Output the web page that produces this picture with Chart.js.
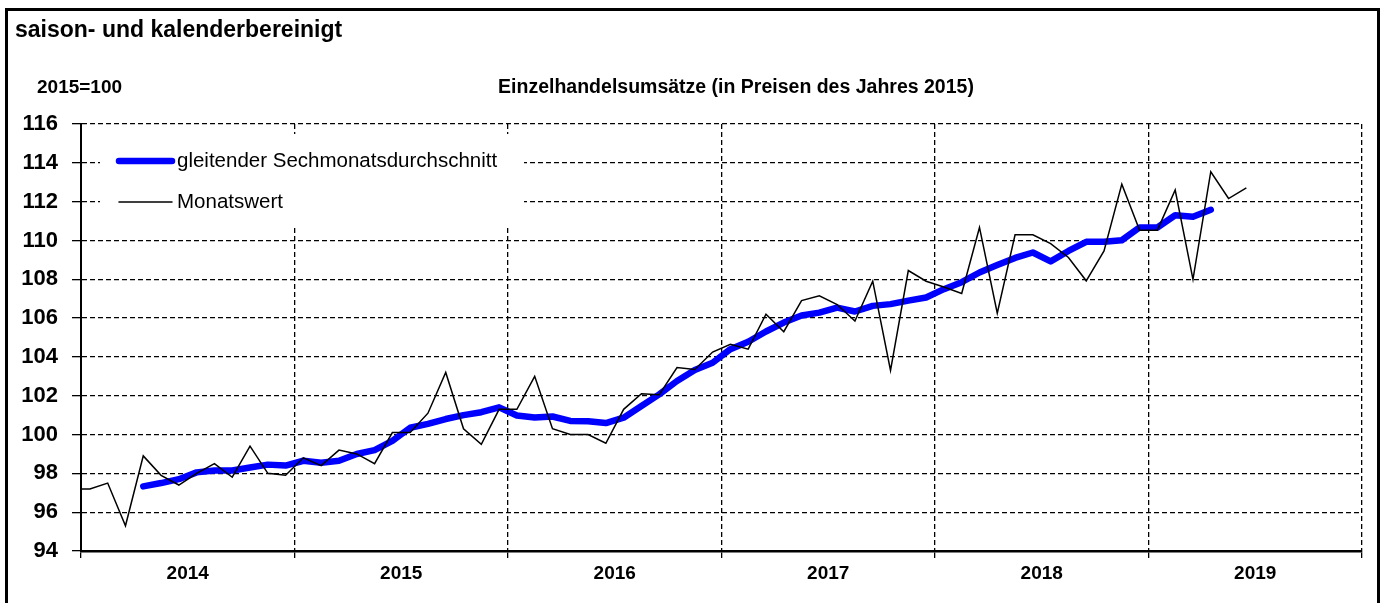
<!DOCTYPE html>
<html lang="de">
<head>
<meta charset="utf-8">
<title>Einzelhandelsumsätze</title>
<script src="https://cdn.jsdelivr.net/npm/chart.js@4/dist/chart.umd.min.js"></script>
<style>
  html, body { margin: 0; padding: 0; background: #fff; }
  #chart { display: block; }
</style>
</head>
<body>
<canvas id="chart" width="1384" height="603"></canvas>
<script>
// Werte (2015 = 100)
const jahre = ['2014', '2015', '2016', '2017', '2018', '2019'];
const yTicks = [94, 96, 98, 100, 102, 104, 106, 108, 110, 112, 114, 116];

// Dezember 2013 (nur der Anschluss am linken Rand)
const dez2013 = 97.2;

// Monatswert Jan 2014 - Jun 2019
const monatswert = [
    97.2, 97.5, 95.3, 98.9, 97.9, 97.4, 98.0, 98.5, 97.8, 99.4, 98.0, 97.9,
    98.8, 98.4, 99.2, 99.0, 98.5, 100.1, 100.1, 101.1, 103.2, 100.3, 99.5, 101.3,
    101.3, 103.0, 100.3, 100.0, 100.0, 99.55, 101.3, 102.1, 102.05, 103.45, 103.35, 104.25,
    104.65, 104.4, 106.2, 105.3, 106.9, 107.15, 106.7, 105.85, 107.9, 103.3, 108.45, 107.9,
    107.6, 107.27, 110.67, 106.25, 110.29, 110.29, 109.84, 109.12, 107.92, 109.46, 112.9, 110.53,
    110.53, 112.6, 108.0, 113.54, 112.16, 112.71
];

// gleitender Sechsmonatsdurchschnitt, beginnt April 2014
const gleitendStart = 3;
const gleitend = [
    97.33, 97.5, 97.7, 98.05, 98.15, 98.15, 98.3, 98.45, 98.4,
    98.65, 98.55, 98.65, 99.0, 99.2, 99.67, 100.35, 100.55, 100.8, 101.0, 101.15, 101.4,
    100.98, 100.88, 100.93, 100.7, 100.69, 100.59, 100.87, 101.47, 102.07, 102.76, 103.33, 103.7,
    104.4, 104.78, 105.31, 105.77, 106.13, 106.28, 106.54, 106.34, 106.63, 106.72, 106.9, 107.06,
    107.49, 107.85, 108.35, 108.73, 109.1, 109.38, 108.92, 109.46, 109.93, 109.93, 110.01, 110.67,
    110.67, 111.3, 111.22, 111.58
];

const titel = 'saison- und kalenderbereinigt';
const basis = '2015=100';
const untertitel = 'Einzelhandelsumsätze (in Preisen des Jahres 2015)';

const FONT = "'Liberation Sans', Arial, sans-serif";

// Monat i liegt in der Mitte seines Monatsfelds
const monatsPunkte = [{ x: -0.5, y: dez2013 }].concat(
    monatswert.map((v, i) => ({ x: i + 0.5, y: v }))
);
const gleitendPunkte = gleitend.map((v, i) => ({ x: gleitendStart + i + 0.5, y: v }));

const monate = jahre.length * 12;

const rahmenPlugin = {
    id: 'rahmen',
    beforeDraw(chart) {
        const ctx = chart.ctx;
        ctx.save();
        ctx.fillStyle = '#fff';
        ctx.fillRect(0, 0, chart.width, chart.height);
        ctx.restore();
    },
    beforeDatasetsDraw(chart) {
        // Legende im Diagramm, weißer Kasten über den Gitterlinien
        const ctx = chart.ctx;
        const ds = chart.data.datasets;
        ctx.save();
        ctx.fillStyle = '#fff';
        ctx.fillRect(100, 134, 424, 92);
        ctx.font = "20.5px " + FONT;
        ctx.textBaseline = 'middle';
        ctx.fillStyle = '#000';
        const zeilen = [ds[1], ds[0]];
        zeilen.forEach((d, i) => {
            const y = 161 + i * 41;
            ctx.beginPath();
            ctx.lineCap = 'round';
            ctx.strokeStyle = d.borderColor;
            ctx.lineWidth = d.borderWidth;
            ctx.moveTo(119, y);
            ctx.lineTo(172, y);
            ctx.stroke();
            ctx.fillText(d.label, 177, y);
        });
        ctx.restore();
    },
    afterDraw(chart) {
        const ctx = chart.ctx;
        ctx.save();
        ctx.strokeStyle = '#000';
        ctx.lineWidth = 3;
        ctx.strokeRect(6.5, 9.5, 1372, 620);
        ctx.fillStyle = '#000';
        ctx.textBaseline = 'middle';
        ctx.font = "bold 23px " + FONT;
        ctx.fillText(titel, 15, 31);
        ctx.font = "bold 19px " + FONT;
        ctx.fillText(basis, 37, 88);
        ctx.font = "bold 19.5px " + FONT;
        ctx.textAlign = 'center';
        ctx.fillText(untertitel, 736, 88);
        ctx.restore();
    }
};

const gitterFarbe = (c) => (c.tick && c.tick.value % 12 === 0) ? '#000' : 'rgba(0,0,0,0)';

new Chart(document.getElementById('chart'), {
    type: 'line',
    data: {
        datasets: [
            {
                label: 'Monatswert',
                data: monatsPunkte,
                borderColor: '#000',
                borderWidth: 1.5,
                pointRadius: 0,
                tension: 0,
                order: 0
            },
            {
                label: 'gleitender Sechmonatsdurchschnitt',
                data: gleitendPunkte,
                borderColor: '#0000ff',
                borderWidth: 6.5,
                borderCapStyle: 'round',
                borderJoinStyle: 'round',
                pointRadius: 0,
                tension: 0,
                order: 1
            }
        ]
    },
    options: {
        responsive: false,
        animation: false,
        devicePixelRatio: 1,
        layout: { padding: { left: 0, right: 22, top: 124, bottom: 0 } },
        plugins: {
            legend: { display: false },
            tooltip: { enabled: false }
        },
        scales: {
            x: {
                type: 'linear',
                min: 0,
                max: monate,
                afterBuildTicks: (axis) => {
                    const t = [];
                    for (let v = 0; v <= monate; v += 6) t.push({ value: v });
                    axis.ticks = t;
                },
                afterFit: (scale) => { scale.height = 52; },
                grid: {
                    color: gitterFarbe,
                    tickColor: gitterFarbe,
                    lineWidth: 1.3,
                    tickLength: 7,
                    tickWidth: 1.3
                },
                border: { display: true, color: '#000', width: 2.5, dash: [5, 3] },
                ticks: {
                    autoSkip: false,
                    maxRotation: 0,
                    padding: 4,
                    color: '#000',
                    font: { family: FONT, size: 19, weight: 'bold' },
                    callback: (v) => (v % 12 === 6) ? jahre[(v - 6) / 12] : ''
                }
            },
            y: {
                min: yTicks[0],
                max: yTicks[yTicks.length - 1],
                afterBuildTicks: (axis) => { axis.ticks = yTicks.map(v => ({ value: v })); },
                afterFit: (scale) => { scale.width = 81; },
                grid: {
                    color: '#000',
                    lineWidth: 1.3,
                    tickLength: 9,
                    tickColor: '#000',
                    tickWidth: 1.3
                },
                border: { display: true, color: '#000', width: 2, dash: [5, 3] },
                ticks: {
                    padding: 14,
                    color: '#000',
                    font: { family: FONT, size: 22, weight: 'bold' }
                }
            }
        }
    },
    plugins: [rahmenPlugin]
});
</script>
</body>
</html>
